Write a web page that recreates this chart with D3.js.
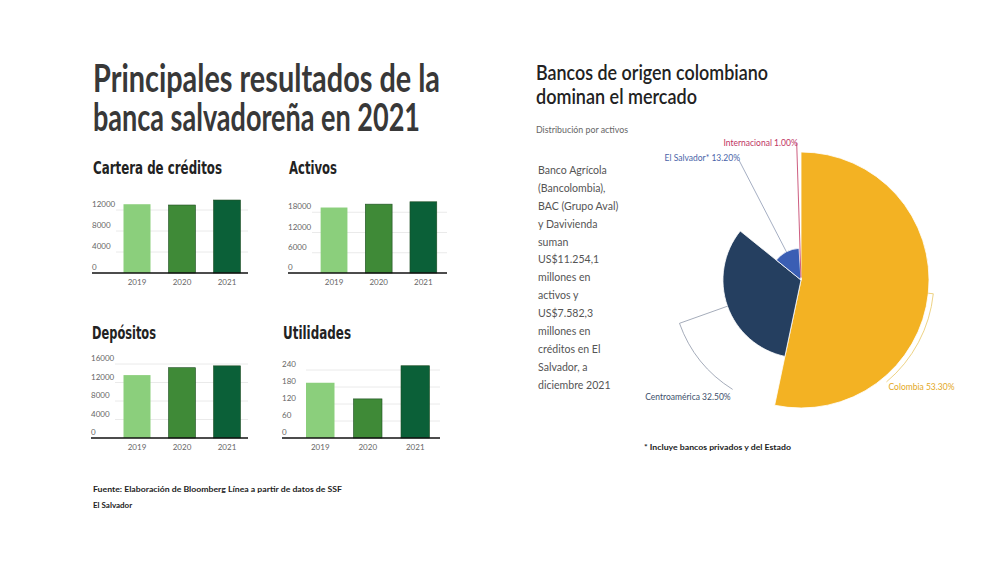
<!DOCTYPE html>
<html>
  <head>
    <meta charset="utf-8">
    <title>Banca salvadoreña 2021</title>
    <script src="https://d3js.org/d3.v7.min.js"></script>
    <style>
      body { margin: 0; background: #fff; }
      text { font-family: Lato, "Open Sans", sans-serif; }
      .cond { font-family: "DejaVu Sans Condensed", "DejaVu Sans", sans-serif; font-weight: bold; }
      .tick-label { font-size: 8px; fill: #666; }
    </style>
  </head>
  <body>
    <svg width="1000" height="562"></svg>
    <script>
      // ---- data ----
      var years = ["2019", "2020", "2021"];
      var cartera = [13100, 12950, 13900];
      var activos = [19400, 20400, 21100];
      var depositos = [13600, 15200, 15600];
      var utilidades = [195, 138, 255];

      var carteraTicks = [0, 4000, 8000, 12000];
      var activosTicks = [0, 6000, 12000, 18000];
      var depositosTicks = [0, 4000, 8000, 12000, 16000];
      var utilidadesTicks = [0, 60, 120, 180, 240];

      var barColors = ["#8bcf7c", "#3f8a37", "#0b6038"];

      var regiones = ["Colombia", "Centroamérica", "El Salvador*", "Internacional"];
      var participacion = [53.3, 32.5, 13.2, 1.0];
      var pieColors = ["#f3b223", "#253f60", "#3a5eb4", "#c0335f"];

      var svg = d3.select("svg");

      // main title
      var title = svg.append("g").attr("class", "cond").style("fill", "#383838");
      title.append("text").attr("x", 93).attr("y", 92)
        .style("font-size", "39px")
        .attr("textLength", 347).attr("lengthAdjust", "spacingAndGlyphs")
        .text("Principales resultados de la");
      title.append("text").attr("x", 93).attr("y", 131)
        .style("font-size", "39px")
        .attr("textLength", 327).attr("lengthAdjust", "spacingAndGlyphs")
        .text("banca salvadoreña en 2021");

      // small bar charts
      var panels = [
        { name: "Cartera de créditos", tw: 129, values: cartera, ticks: carteraTicks, yMax: 16000,
          x0: 92, x1: 248, band: [114.5, 249.5], base: 273, h: 84, ty: 174 },
        { name: "Activos", tw: 48, values: activos, ticks: activosTicks, yMax: 24000,
          x0: 288, x1: 447, band: [311.7, 445.7], base: 273, h: 81, ty: 174 },
        { name: "Depósitos", tw: 64, values: depositos, ticks: depositosTicks, yMax: 20000,
          x0: 91, x1: 248, band: [114.5, 249.5], base: 438, h: 92.5, ty: 339 },
        { name: "Utilidades", tw: 68, values: utilidades, ticks: utilidadesTicks, yMax: 300,
          x0: 282, x1: 440, band: [296.5, 439], base: 438, h: 85, ty: 339 }
      ];

      panels.forEach(function (p) {
        var g = svg.append("g");
        var x = d3.scaleBand().domain(years).range(p.band).paddingInner(0.4).paddingOuter(0.2);
        var y = d3.scaleLinear().domain([0, p.yMax]).range([p.base, p.base - p.h]);

        g.append("text").attr("class", "cond")
          .attr("x", p.x0 + 1).attr("y", p.ty)
          .style("font-size", "18px").style("fill", "#222")
          .attr("textLength", p.tw).attr("lengthAdjust", "spacingAndGlyphs")
          .text(p.name);

        // gridlines
        g.selectAll("line.grid")
          .data(p.ticks.slice(1))
          .enter().append("line")
          .attr("x1", p.x0 + 24).attr("x2", p.x1)
          .attr("y1", function (d) { return y(d); })
          .attr("y2", function (d) { return y(d); })
          .style("stroke", "#e4e4e4").style("stroke-width", 0.8);

        // tick labels sit just above their gridline
        g.selectAll("text.tick-label")
          .data(p.ticks)
          .enter().append("text")
          .attr("class", "tick-label")
          .attr("x", p.x0)
          .attr("y", function (d) { return y(d) - 3; })
          .text(function (d) { return d; });

        g.selectAll("rect")
          .data(p.values)
          .enter().append("rect")
          .attr("x", function (d, i) { return x(years[i]); })
          .attr("y", function (d) { return y(d); })
          .attr("width", x.bandwidth())
          .attr("height", function (d) { return y(0) - y(d); })
          .style("fill", function (d, i) { return barColors[i]; })
          .style("stroke", function (d, i) { return i === 0 ? "none" : "#1d4d22"; })
          .style("stroke-width", 0.6);

        g.append("line")
          .attr("x1", p.x0).attr("x2", p.x1)
          .attr("y1", y(0)).attr("y2", y(0))
          .style("stroke", "#111").style("stroke-width", 1.4);

        g.selectAll("text.year")
          .data(years)
          .enter().append("text")
          .attr("class", "tick-label")
          .attr("x", function (d) { return x(d) + x.bandwidth() / 2; })
          .attr("y", p.base + 12)
          .style("text-anchor", "middle")
          .text(function (d) { return d; });
      });

      // source
      var src = svg.append("g").style("font-size", "8px").style("font-weight", "bold").style("fill", "#222");
      src.append("text").attr("x", 93).attr("y", 492)
        .attr("textLength", 249).attr("lengthAdjust", "spacingAndGlyphs")
        .text("Fuente: Elaboración de Bloomberg Línea a partir de datos de SSF");
      src.append("text").attr("x", 93).attr("y", 508).text("El Salvador");

      // right side titles
      var rt = svg.append("g").style("fill", "#222")
        .style("font-family", "'Noto Sans', sans-serif").style("font-weight", 600);
      rt.append("text").attr("x", 536).attr("y", 80).style("font-size", "21px")
        .attr("textLength", 232).attr("lengthAdjust", "spacingAndGlyphs")
        .text("Bancos de origen colombiano");
      rt.append("text").attr("x", 536).attr("y", 104).style("font-size", "21px")
        .attr("textLength", 161).attr("lengthAdjust", "spacingAndGlyphs")
        .text("dominan el mercado");

      svg.append("text").attr("x", 536).attr("y", 133)
        .style("font-size", "9px").style("fill", "#666")
        .attr("textLength", 92).attr("lengthAdjust", "spacingAndGlyphs")
        .text("Distribución por activos");

      var bodyLines = [
        "Banco Agrícola", "(Bancolombia),", "BAC (Grupo Aval)", "y Davivienda", "suman",
        "US$11.254,1", "millones en", "activos y", "US$7.582,3", "millones en",
        "créditos en El", "Salvador, a", "diciembre 2021"
      ];
      var body = svg.append("g").attr("transform", "translate(538,174) scale(0.88,1)");
      body.selectAll("text")
        .data(bodyLines)
        .enter().append("text")
        .attr("x", 0)
        .attr("y", function (d, i) { return i * 17.9; })
        .style("font-size", "12px").style("fill", "#555")
        .text(function (d) { return d; });

      svg.append("text").attr("x", 644).attr("y", 450)
        .style("font-size", "8px").style("font-weight", "bold").style("fill", "#222")
        .attr("textLength", 147).attr("lengthAdjust", "spacingAndGlyphs")
        .text("* Incluye bancos privados y del Estado");

      // rose pie: angle and radius both follow the share
      var cx = 801, cy = 280;
      var r = d3.scaleLinear().domain([0, d3.max(participacion)]).range([0, 128]);
      var pie = d3.pie().sort(null).value(function (d) { return d; });
      var arcs = pie(participacion);
      var arcGen = d3.arc().innerRadius(0).outerRadius(function (d) { return r(d.data); });

      var pg = svg.append("g").attr("transform", "translate(" + cx + "," + cy + ")");
      pg.selectAll("path.slice")
        .data(arcs)
        .enter().append("path")
        .attr("class", "slice")
        .attr("d", arcGen)
        .style("fill", function (d, i) { return pieColors[i]; })
        .style("stroke", "#fff").style("stroke-width", 0.8);

      // leader lines: radial out, then (for the big ones) along a circle to the label
      var labelLayout = [
        { rad: 133, ang: 140, ccw: false, anchor: "start", dx: 2, dy: 8, line: "#e9c765", txt: "#e3a81e" },
        { rad: 129, ang: 212, ccw: true, anchor: "end", dx: -2, dy: 11, line: "#8e97a8", txt: "#3d4f6b" },
        { rad: 135, ang: null, anchor: "end", dx: 1, dy: 1, line: "#8e99b3", txt: "#4a64a8" },
        { rad: 137, ang: null, anchor: "end", dx: 1, dy: 3, line: "#c0335f", txt: "#c0335f" }
      ];
      var deg = Math.PI / 180;
      function pt(radius, a) { return [Math.sin(a) * radius, -Math.cos(a) * radius]; }

      arcs.forEach(function (d, i) {
        var L = labelLayout[i];
        var mid = (d.startAngle + d.endAngle) / 2;
        var p0 = pt(r(d.data), mid), p1 = pt(L.rad, mid);
        var path = d3.path();
        path.moveTo(p0[0], p0[1]);
        path.lineTo(p1[0], p1[1]);
        var end = p1;
        if (L.ang !== null) {
          path.arc(0, 0, L.rad, mid - Math.PI / 2, L.ang * deg - Math.PI / 2, L.ccw);
          end = pt(L.rad, L.ang * deg);
        }
        pg.append("path").attr("d", path.toString())
          .style("fill", "none").style("stroke", L.line).style("stroke-width", 0.8);
        pg.append("text")
          .attr("x", end[0] + L.dx).attr("y", end[1] + L.dy)
          .style("text-anchor", L.anchor)
          .style("font-size", "8.5px").style("fill", L.txt)
          .text(regiones[i] + " " + d.data.toFixed(2) + "%");
      });
    </script>
  </body>
</html>
